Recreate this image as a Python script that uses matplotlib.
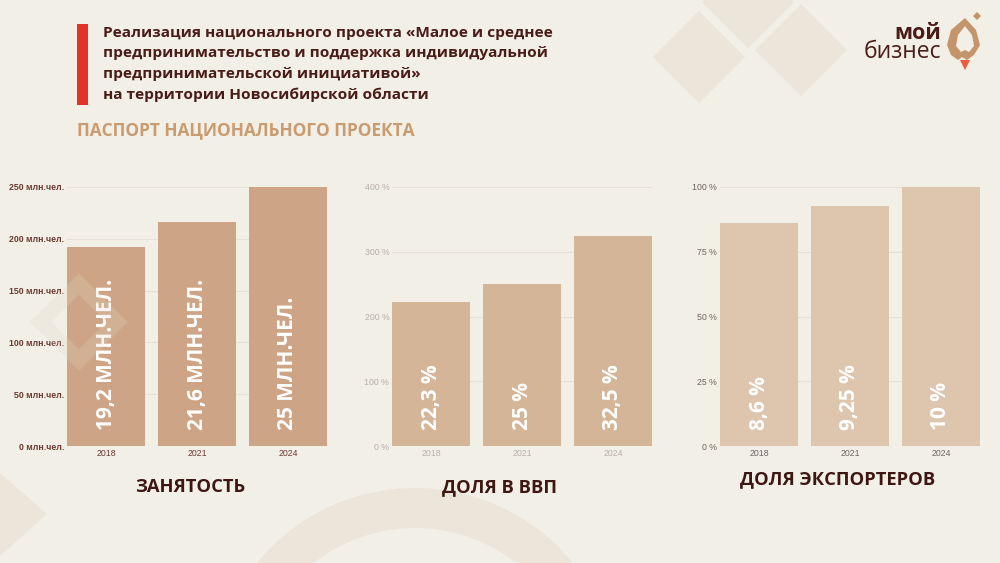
# -*- coding: utf-8 -*-
import matplotlib as mpl
mpl.use('Agg')
import matplotlib.pyplot as plt
from matplotlib.patches import Polygon, Rectangle, Wedge
from matplotlib.lines import Line2D

plt.rcParams['font.family'] = ['Open Sans', 'DejaVu Sans']

# данные
years = ['2018', '2021', '2024']

empl_vals = [192, 216, 250]
empl_labels = ['19,2 МЛН.ЧЕЛ.', '21,6 МЛН.ЧЕЛ.', '25 МЛН.ЧЕЛ.']
empl_ticks = [0, 50, 100, 150, 200, 250]

gdp_vals = [223, 250, 325]
gdp_labels = ['22,3 %', '25 %', '32,5 %']
gdp_ticks = [0, 100, 200, 300, 400]

exp_vals = [86, 92.5, 100]
exp_labels = ['8,6 %', '9,25 %', '10 %']
exp_ticks = [0, 25, 50, 75, 100]

titles = ['ЗАНЯТОСТЬ', 'ДОЛЯ В ВВП', 'ДОЛЯ ЭКСПОРТЕРОВ']

BG = '#F2EFE6'
DECOR = '#ECE5DA'
W, H = 1000, 563

fig = plt.figure(figsize=(10, 5.63), dpi=100)
fig.patch.set_facecolor(BG)


def fx(x):
    return x / W


def fy(y):
    return 1 - y / H


def poly(points, color, z=-1):
    p = Polygon([(fx(a), fy(b)) for a, b in points], closed=True,
                transform=fig.transFigure, facecolor=color, edgecolor='none', zorder=z)
    fig.patches.append(p)


# фоновые ромбы
for cx, cy in [(699, 57), (801, 50), (748, 2)]:
    r = 46
    poly([(cx - r, cy), (cx, cy - r), (cx + r, cy), (cx, cy + r)], DECOR)
poly([(0, 473), (47, 514), (0, 556)], DECOR)
ring = Wedge((4.15, -1.29), 2.04, 0, 360, width=0.40,
             transform=fig.dpi_scale_trans, facecolor=DECOR, edgecolor='none', zorder=-1)
fig.patches.append(ring)
# контурный ромб слева (поверх, полупрозрачный)
cx, cy, r = 79, 322, 38
dm = Line2D([fx(cx - r), fx(cx), fx(cx + r), fx(cx), fx(cx - r)],
            [fy(cy), fy(cy - r), fy(cy), fy(cy + r), fy(cy)],
            transform=fig.transFigure, color='#E4D8C8', alpha=0.22, linewidth=11,
            solid_joinstyle='miter', zorder=5)
fig.lines.append(dm)

# заголовок
fig.patches.append(Rectangle((fx(77), fy(105)), fx(11), 81 / H, transform=fig.transFigure,
                             facecolor='#E3312B', edgecolor='none'))
title_lines = ['Реализация национального проекта «Малое и среднее',
               'предпринимательство и поддержка индивидуальной',
               'предпринимательской инициативой»',
               'на территории Новосибирской области']
for i, line in enumerate(title_lines):
    fig.text(fx(103), fy(33 + i * 20.5), line, fontsize=11.1, fontweight='bold',
             color='#4A1C17', va='center', ha='left')
fig.text(fx(77), fy(130), 'ПАСПОРТ НАЦИОНАЛЬНОГО ПРОЕКТА', fontsize=12.4,
         fontweight='bold', color='#C99B70', va='center', ha='left')

# логотип
fig.text(fx(941), fy(39), 'мой', fontsize=15.5, fontweight='bold', color='#4A1C17',
         ha='right', va='baseline')
fig.text(fx(941), fy(58), 'бизнес', fontsize=16.5, color='#4A1C17', ha='right', va='baseline')
poly([(965, 18), (976, 30), (980, 45), (974, 55), (967, 60), (962, 57), (958, 60),
      (951, 55), (947, 45), (951, 30)], '#C4956A', z=1)
poly([(965, 26), (972, 35), (974, 46), (969, 52), (965, 50), (961, 52), (956, 46), (958, 35)], BG, z=1)
poly([(960, 60), (970, 60), (965, 70)], '#EE5A3C', z=1)
poly([(973, 16), (977, 12), (981, 16), (977, 20)], '#C4956A', z=1)

charts = [
    dict(left=67, vals=empl_vals, labels=empl_labels, ticks=empl_ticks, top=250,
         fmt='{} млн.чел.', bar='#CDA586', tick='#6B3A30', tw='bold',
         title_x=190, title_y=487),
    dict(left=392, vals=gdp_vals, labels=gdp_labels, ticks=gdp_ticks, top=400,
         fmt='{} %', bar='#D5B598', tick='#B8AEA8', tw='normal',
         title_x=500, title_y=487),
    dict(left=720, vals=exp_vals, labels=exp_labels, ticks=exp_ticks, top=100,
         fmt='{} %', bar='#DEC6AE', tick='#6E6560', tw='normal',
         title_x=838, title_y=479),
]

for i, c in enumerate(charts):
    ax = fig.add_axes([fx(c['left']), fy(446), fx(260), 259 / H])
    ax.set_facecolor('none')
    x = list(range(len(years)))
    ax.bar(x, c['vals'], width=0.86, color=c['bar'], zorder=2)
    ax.set_xlim(-0.43, 2.43)
    ax.set_ylim(0, c['top'])
    ax.set_yticks(c['ticks'])
    ax.set_yticklabels([c['fmt'].format(t) for t in c['ticks']], family=['Liberation Sans'],
                       fontsize=6.3, color=c['tick'], fontweight=c['tw'])
    ax.set_xticks(x)
    ax.set_xticklabels(years, family=['Liberation Sans'], fontsize=6.3, color=c['tick'])
    ax.tick_params(length=0, pad=2)
    ax.grid(axis='y', color='#E6E0D5', linewidth=0.8, zorder=0)
    for s in ax.spines.values():
        s.set_visible(False)
    for xi, lab in zip(x, c['labels']):
        ax.text(xi, 0.062, lab, transform=ax.get_xaxis_transform(), rotation=90,
                ha='center', va='bottom', color='white', fontsize=15, fontweight='bold',
                zorder=3)
    fig.text(fx(c['title_x']), fy(c['title_y']), titles[i], fontsize=13.2,
             fontweight='bold', color='#3E1712', ha='center', va='center')

fig.savefig('out.png', dpi=100, facecolor=BG)
